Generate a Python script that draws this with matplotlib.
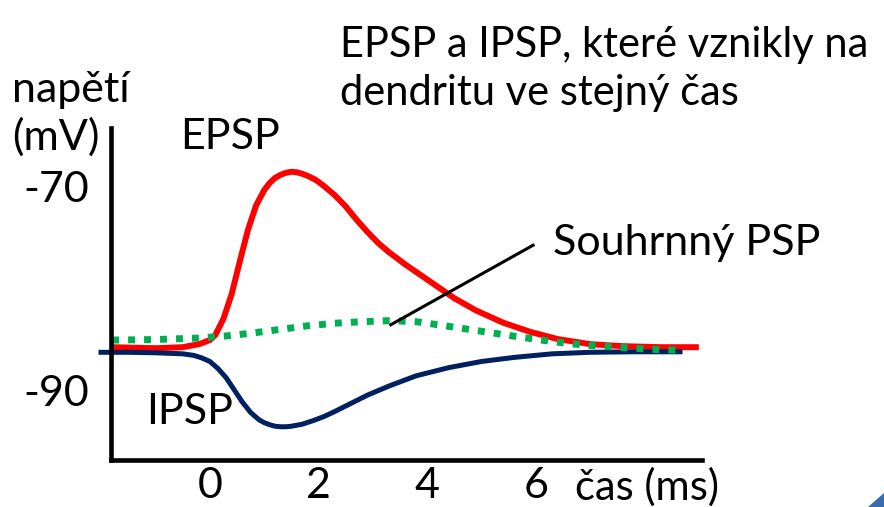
import numpy as np
import matplotlib
matplotlib.use("Agg")
import matplotlib.pyplot as plt
from matplotlib.patches import Polygon

plt.rcParams['font.family'] = ['Lato', 'DejaVu Sans']
plt.rcParams['axes.unicode_minus'] = False

# time (ms) and membrane voltage (mV)
epsp_t = [-1.8, -1.0, -0.5, -0.2, 0.0, 0.1, 0.25, 0.4, 0.55, 0.7, 0.85, 1.0,
          1.1, 1.2, 1.3, 1.4, 1.5, 1.6, 1.7, 1.8, 1.95, 2.1, 2.3, 2.5, 2.7,
          2.9, 3.1, 3.3, 3.6, 3.9, 4.2, 4.5, 4.9, 5.4, 5.9, 6.4, 7.0, 7.6,
          8.3, 9.0]
epsp_v = [-85.8, -85.9, -85.8, -85.5, -85.1, -84.6, -83.0, -80.6, -77.4, -74.3,
          -71.9, -70.4, -69.7, -69.2, -68.9, -68.7, -68.6, -68.65, -68.8, -69.0,
          -69.4, -70.0, -70.9, -72.0, -73.3, -74.5, -75.6, -76.5, -77.7, -78.8,
          -79.9, -81.0, -82.2, -83.4, -84.3, -85.0, -85.5, -85.7, -85.8, -85.8]

ipsp_t = [-2.05, -1.5, -1.0, -0.5, -0.3, -0.15, 0.0, 0.15, 0.3, 0.45, 0.6, 0.75,
          0.9, 1.0, 1.1, 1.2, 1.3, 1.4, 1.5, 1.7, 1.9, 2.1, 2.3, 2.6, 2.9,
          3.3, 3.8, 4.4, 5.0, 5.6, 6.3, 7.0, 7.8, 8.7]
ipsp_v = [-86.3, -86.3, -86.35, -86.45, -86.6, -86.85, -87.2, -87.9, -88.8, -90.0,
          -91.2, -92.2, -92.9, -93.2, -93.4, -93.55, -93.6, -93.6, -93.55, -93.35,
          -93.0, -92.6, -92.1, -91.3, -90.5, -89.6, -88.6, -87.8, -87.2, -86.8,
          -86.45, -86.3, -86.25, -86.25]

sum_t = [-1.8, -1.0, -0.2, 0.3, 0.8, 1.3, 1.8, 2.3, 2.8, 3.3, 3.8, 4.2, 4.7,
         5.2, 5.7, 6.3, 6.9, 7.5, 8.1, 8.6]
sum_v = [-85.1, -85.05, -84.9, -84.7, -84.4, -84.05, -83.7, -83.45, -83.3, -83.2,
         -83.3, -83.6, -84.0, -84.4, -84.8, -85.25, -85.6, -85.8, -86.0, -86.1]

x_ticks = [0, 2, 4, 6]
y_ticks = [-70, -90]

fs = 31

fig = plt.figure(figsize=(8.84, 5.07), dpi=100)
ax = fig.add_axes([0.1256, 0.0927, 0.6686, 0.6548])
ax.set_xlim(-1.82, 9.06)
ax.set_ylim(-96.86, -64.31)

ax.plot(epsp_t, epsp_v, color='#ff0000', lw=4.3, solid_capstyle='butt',
        solid_joinstyle='round')
ax.plot(ipsp_t, ipsp_v, color='#002060', lw=3.6, solid_capstyle='butt',
        solid_joinstyle='round', clip_on=False)
ax.plot(sum_t, sum_v, color='#00b050', lw=5.0, dashes=(1, 1.3), dash_capstyle='butt')

# pointer to the summed PSP
ax.plot([3.33, 5.95], [-83.6, -75.8], color='black', lw=2.2)
ax.text(6.32, -75.6, 'Souhrnný PSP', fontsize=fs, ha='left', va='center')

ax.text(0.37, -65.2, 'EPSP', fontsize=fs, ha='center', va='center')
ax.text(-0.37, -92.2, 'IPSP', fontsize=fs, ha='center', va='center')

for side in ['top', 'right']:
    ax.spines[side].set_visible(False)
for side in ['left', 'bottom']:
    ax.spines[side].set_linewidth(3.3)

ax.set_xticks(x_ticks)
ax.set_yticks(y_ticks)
ax.tick_params(length=0, labelsize=fs)
ax.tick_params(axis='y', pad=16)
ax.tick_params(axis='x', pad=5)

fig.text(575 / 884, 1 - 487 / 507, 'čas (ms)', fontsize=30, ha='left', va='center')
fig.text(12 / 884, 1 - 90 / 507, 'napětí', fontsize=fs, ha='left', va='center')
fig.text(12 / 884, 1 - 137 / 507, '(mV)', fontsize=fs, ha='left', va='center')
fig.text(340 / 884, 1 - 57 / 507, 'EPSP a IPSP, které vznikly na',
         fontsize=30, ha='left', va='baseline')
fig.text(340 / 884, 1 - 105 / 507, 'dendritu ve stejný čas',
         fontsize=30, ha='left', va='baseline')

# corner decoration
fig.patches.append(Polygon([[868 / 884, 0.0], [1.0, 0.0], [1.0, 14 / 507]],
                           closed=True, transform=fig.transFigure,
                           color='#3a6baa', zorder=0))

fig.savefig('out.png', dpi=100)
